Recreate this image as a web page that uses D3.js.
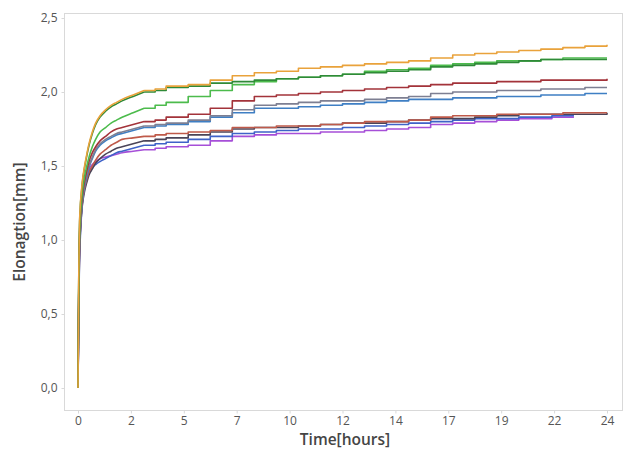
<!DOCTYPE html>
<html>
<head>
<meta charset="utf-8">
<script src="https://cdn.jsdelivr.net/npm/d3@7"></script>
<style>
  html, body { margin: 0; padding: 0; background: #fff; }
  svg { display: block; }
  .tick text { font-family: "Open Sans", "DejaVu Sans", sans-serif; font-size: 12px; fill: #555; }
  .title { font-family: "Open Sans", "DejaVu Sans", sans-serif; font-size: 15.5px; font-weight: 600; fill: #454545; }
</style>
</head>
<body>
<svg id="chart" width="627" height="453"></svg>
<script>
// time stamps (hours)
const times = [0, 0.03, 0.06, 0.1, 0.15, 0.2, 0.3, 0.4, 0.5, 0.65, 0.8, 1, 1.25, 1.5, 1.75, 2, 2.5, 3, 3.5, 4,
  5, 6, 7, 8, 9, 10, 11, 12, 13, 14, 15, 16, 17, 18, 19, 20, 21, 22, 23, 24]
// two of the runs stop a bit earlier
const timesShort = [0, 0.03, 0.06, 0.1, 0.15, 0.2, 0.3, 0.4, 0.5, 0.65, 0.8, 1, 1.25, 1.5, 1.75, 2, 2.5, 3, 3.5, 4,
  5, 6, 7, 8, 9, 10, 11, 12, 13, 14, 15, 16, 17, 18, 19, 20, 21, 21.5, 22, 22.5]

const orange = [0, 0.70, 1.05, 1.22, 1.32, 1.40, 1.50, 1.58, 1.65, 1.73, 1.79, 1.84, 1.88, 1.91, 1.93, 1.95, 1.98, 2.01, 2.02, 2.04,
  2.05, 2.08, 2.11, 2.13, 2.14, 2.16, 2.17, 2.18, 2.19, 2.20, 2.21, 2.23, 2.25, 2.26, 2.27, 2.28, 2.29, 2.30, 2.31, 2.32]
const green1 = [0, 0.68, 1.04, 1.21, 1.31, 1.39, 1.49, 1.57, 1.64, 1.72, 1.78, 1.83, 1.87, 1.90, 1.92, 1.94, 1.97, 2.00, 2.01, 2.03,
  2.04, 2.06, 2.07, 2.08, 2.09, 2.10, 2.11, 2.12, 2.13, 2.14, 2.15, 2.17, 2.18, 2.19, 2.20, 2.21, 2.22, 2.22, 2.22, 2.22]
const green2 = [0, 0.62, 0.97, 1.14, 1.25, 1.33, 1.43, 1.50, 1.56, 1.63, 1.68, 1.73, 1.76, 1.79, 1.81, 1.83, 1.86, 1.89, 1.91, 1.93,
  1.97, 2.01, 2.05, 2.07, 2.09, 2.10, 2.11, 2.12, 2.14, 2.15, 2.16, 2.18, 2.19, 2.20, 2.21, 2.21, 2.22, 2.23, 2.23, 2.23]
const darkRed = [0, 0.60, 0.95, 1.12, 1.22, 1.30, 1.40, 1.47, 1.53, 1.59, 1.63, 1.67, 1.70, 1.73, 1.75, 1.76, 1.78, 1.80, 1.81, 1.83,
  1.85, 1.89, 1.94, 1.97, 1.98, 1.99, 2.00, 2.01, 2.02, 2.03, 2.04, 2.05, 2.06, 2.06, 2.07, 2.07, 2.08, 2.08, 2.08, 2.09]
const gray = [0, 0.58, 0.92, 1.09, 1.20, 1.28, 1.38, 1.45, 1.50, 1.56, 1.61, 1.65, 1.68, 1.70, 1.72, 1.73, 1.75, 1.77, 1.78, 1.79,
  1.81, 1.84, 1.88, 1.91, 1.92, 1.93, 1.94, 1.94, 1.95, 1.96, 1.97, 1.99, 2.00, 2.00, 2.01, 2.01, 2.02, 2.02, 2.03, 2.03]
const blueMid = [0, 0.56, 0.90, 1.07, 1.18, 1.26, 1.36, 1.43, 1.49, 1.55, 1.60, 1.64, 1.67, 1.69, 1.71, 1.72, 1.74, 1.76, 1.77, 1.78,
  1.80, 1.83, 1.86, 1.89, 1.89, 1.90, 1.91, 1.92, 1.93, 1.94, 1.95, 1.95, 1.96, 1.96, 1.97, 1.97, 1.98, 1.98, 1.99, 1.99]
const lowRed = [0, 0.50, 0.85, 1.05, 1.18, 1.26, 1.35, 1.41, 1.46, 1.50, 1.54, 1.58, 1.61, 1.64, 1.66, 1.68, 1.69, 1.70, 1.71, 1.72,
  1.73, 1.74, 1.76, 1.76, 1.77, 1.77, 1.78, 1.79, 1.80, 1.80, 1.81, 1.83, 1.84, 1.84, 1.85, 1.85, 1.85, 1.86, 1.86, 1.86]
const dark = [0, 0.48, 0.83, 1.03, 1.16, 1.24, 1.33, 1.39, 1.44, 1.48, 1.52, 1.55, 1.58, 1.60, 1.62, 1.63, 1.65, 1.67, 1.68, 1.69,
  1.71, 1.73, 1.75, 1.76, 1.76, 1.77, 1.78, 1.79, 1.79, 1.80, 1.81, 1.82, 1.82, 1.83, 1.84, 1.85, 1.85, 1.85, 1.85, 1.86]
const blueLow = [0, 0.45, 0.80, 1.00, 1.15, 1.25, 1.36, 1.42, 1.46, 1.49, 1.51, 1.53, 1.55, 1.57, 1.59, 1.60, 1.62, 1.64, 1.65, 1.66,
  1.68, 1.70, 1.72, 1.73, 1.74, 1.75, 1.75, 1.76, 1.77, 1.78, 1.79, 1.80, 1.81, 1.82, 1.82, 1.83, 1.83, 1.84, 1.84, 1.84]
const purple = [0, 0.50, 0.88, 1.05, 1.18, 1.28, 1.38, 1.44, 1.48, 1.51, 1.53, 1.55, 1.56, 1.57, 1.58, 1.59, 1.60, 1.61, 1.62, 1.63,
  1.64, 1.67, 1.70, 1.71, 1.72, 1.72, 1.73, 1.73, 1.74, 1.75, 1.76, 1.78, 1.79, 1.80, 1.81, 1.82, 1.82, 1.83, 1.83, 1.83]

const series = [
  { t: timesShort, v: purple, color: '#a64fd8' },
  { t: timesShort, v: blueLow, color: '#3f62c8' },
  { t: times, v: dark, color: '#4a4458' },
  { t: times, v: lowRed, color: '#bf5a4a' },
  { t: times, v: blueMid, color: '#3f7fc4' },
  { t: times, v: gray, color: '#7d7f92' },
  { t: times, v: darkRed, color: '#a3333a' },
  { t: times, v: green2, color: '#4cbb4c' },
  { t: times, v: green1, color: '#2f8a38' },
  { t: times, v: orange, color: '#e9a23b' }
]

const xTickValues = [0, 2.4, 4.8, 7.2, 9.6, 12, 14.4, 16.8, 19.2, 21.6, 24]
const yTickValues = [0, 0.5, 1, 1.5, 2, 2.5]

const frame = { left: 64, right: 622, top: 13, bottom: 410 }
const smoothUntil = 3 // the first hours rise smoothly, after that the logger steps

const svg = d3.select('#chart')
const x = d3.scaleLinear().domain([0, 24]).range([78, 607])
const y = d3.scaleLinear().domain([0, 2.5]).range([388, 18])

const comma = d3.formatLocale({ decimal: ',', thousands: '.', grouping: [3], currency: ['', ''] })

// plot frame
svg.append('rect')
  .attr('x', frame.left + 0.5).attr('y', frame.top + 0.5)
  .attr('width', frame.right - frame.left).attr('height', frame.bottom - frame.top)
  .attr('fill', 'none').attr('stroke', '#d9d9d9')

const yAxis = svg.append('g')
  .attr('transform', `translate(${frame.left + 0.5},0)`)
  .call(d3.axisLeft(y).tickValues(yTickValues).tickFormat(comma.format('.1f')).tickSize(3).tickPadding(4))
const xAxis = svg.append('g')
  .attr('transform', `translate(0,${frame.bottom + 0.5})`)
  .call(d3.axisBottom(x).tickValues(xTickValues).tickFormat(d3.format('.0f')).tickSize(3).tickPadding(3))
for (const ax of [xAxis, yAxis]) {
  ax.select('.domain').remove()
  ax.selectAll('.tick line').attr('stroke', '#d9d9d9')
}

const smoothLine = d3.line()
  .x((d) => x(d[0]))
  .y((d) => y(d[1]))
  .curve(d3.curveMonotoneX)
const stepLine = d3.line()
  .x((d) => x(d[0]))
  .y((d) => y(d[1]))
  .curve(d3.curveStepAfter)

const seriesPath = (s) => {
  const pts = d3.zip(s.t, s.v)
  const early = pts.filter((p) => p[0] <= smoothUntil)
  const late = pts.filter((p) => p[0] >= smoothUntil)
  return smoothLine(early) + stepLine(late)
}

svg.append('g')
  .selectAll('path')
  .data(series)
  .join('path')
  .attr('d', seriesPath)
  .attr('fill', 'none')
  .attr('stroke', (s) => s.color)
  .attr('stroke-width', 1.6)
  .attr('stroke-linejoin', 'round')

svg.append('text')
  .attr('class', 'title')
  .attr('x', 345).attr('y', 445)
  .attr('text-anchor', 'middle')
  .text('Time[hours]')

svg.append('text')
  .attr('class', 'title')
  .attr('transform', 'translate(25,222) rotate(-90)')
  .attr('text-anchor', 'middle')
  .text('Elonagtion[mm]')
</script>
</body>
</html>
